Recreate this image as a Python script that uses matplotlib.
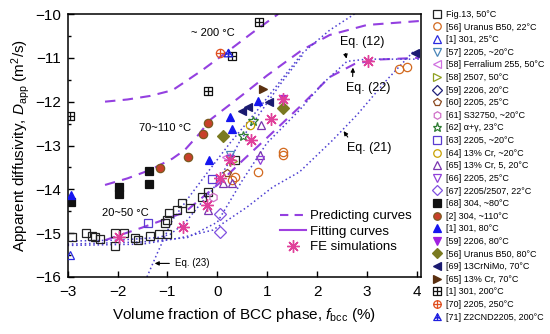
import matplotlib
matplotlib.use("Agg")
import matplotlib.pyplot as plt
from matplotlib.path import Path
from matplotlib.lines import Line2D

plt.rcParams['font.family'] = ['Liberation Sans', 'DejaVu Sans']
plt.rcParams['mathtext.fontset'] = 'custom'
plt.rcParams['mathtext.rm'] = 'Liberation Sans'
plt.rcParams['mathtext.it'] = 'Liberation Sans:italic'

# predicting curves (dashed)
pred200_x = [-2.25, -1.8, -1.35, -0.9, -0.65, -0.3, 0.2, 0.7, 1.22]
pred200_y = [-12.0, -11.95, -11.87, -11.74, -11.55, -11.28, -10.86, -10.43, -10.0]
pred70_x = [-2.25, -1.8, -1.35, -0.9, -0.65, -0.35, -0.15, 0.5, 1.0, 1.7, 2.25, 3.0, 4.05]
pred70_y = [-13.9, -13.75, -13.56, -13.3, -13.1, -12.72, -12.42, -11.85, -11.4, -10.82, -10.48, -10.25, -10.16]
pred20_x = [-2.25, -1.5, -0.65, 0.0, 0.5, 1.0, 1.65, 2.25, 2.75, 3.2, 4.05]
pred20_y = [-15.16, -14.87, -14.52, -13.9, -13.35, -12.82, -12.12, -11.44, -11.14, -11.04, -11.0]

# model curves (dotted)
eq23_x = [-1.41, -1.2, -0.9, -0.55, -0.2, 0.25, 0.8, 1.25, 1.7, 2.25, 2.75]
eq23_y = [-16.0, -15.45, -14.7, -14.15, -13.62, -12.95, -12.2, -11.55, -10.9, -10.37, -10.0]
fan_x = [-3.0, -2.0, -1.2, -0.95, -0.65, -0.35, -0.09, 0.25, 0.45, 0.8, 1.25, 1.7]
fan_y = [-15.18, -15.16, -15.1, -15.03, -14.77, -14.35, -14.0, -13.35, -12.9, -12.35, -11.62, -10.95]
eq12_x = [-3.0, -1.5, -0.6, 0.0, 0.5, 0.99, 1.65, 2.1, 2.6, 3.0, 4.05]
eq12_y = [-15.25, -15.2, -15.1, -14.75, -13.8, -12.95, -12.19, -11.6, -11.08, -11.03, -11.03]
eq21_x = [-3.0, -1.5, -0.75, -0.09, 0.59, 1.11, 1.65, 2.31, 2.8, 3.4, 3.96]
eq21_y = [-15.28, -15.25, -15.11, -14.93, -14.41, -13.95, -13.6, -12.88, -12.3, -11.5, -10.82]

# experimental data
fig13_x = [-2.92, -2.64, -2.52, -2.46, -2.36, -2.06, -2.06, -1.86, -1.64, -1.58, -1.35, -1.17, -1.01,
           -1.05, -1.01, -0.97, -0.81, -0.71, -0.55, -0.31, -0.19, 0.35]
fig13_y = [-15.09, -15.0, -15.07, -15.09, -15.14, -15.0, -15.30, -15.0, -15.11, -15.16, -15.07, -15.02, -15.02,
           -14.77, -14.70, -14.54, -14.47, -14.32, -14.43, -14.18, -14.06, -13.33]
ur22_x = [0.29, 0.35, 0.81, 1.31, 1.31, 3.65, 3.8]
ur22_y = [-13.79, -13.72, -13.61, -13.15, -13.22, -11.26, -11.21]
s301_25_x = [-2.96]
s301_25_y = [-15.5]
s2205_57_x = [0.25]
s2205_57_y = [-13.22]
ferr_x = [0.17]
ferr_y = [-13.27]
s2507_x = [0.31]
s2507_y = [-13.36]
s2206_20_x = []
s2206_20_y = []
s2205_60_x = [0.19]
s2205_60_y = [-13.63]
s32750_x = [-0.09]
s32750_y = [-14.18]
ag_x = [0.71, 0.51]
ag_y = [-12.44, -12.79]
s2205_63_x = [-1.39, -0.11]
s2205_63_y = [-14.77, -13.77]
cr13_20_x = [0.65]
cr13_20_y = [-12.53]
cr13_5_x = [0.87, 0.85, 0.29, 0.11, -0.19]
cr13_5_y = [-12.53, -13.22, -13.86, -13.86, -14.47]
s2205_66_x = [0.85, 0.25]
s2205_66_y = [-13.33, -13.3]
s2507_67_x = [0.05, 0.05]
s2507_67_y = [-14.57, -14.98]
s304_80_x = [-2.94, -1.96, -1.96, -1.37, -1.37]
s304_80_y = [-14.29, -13.95, -14.11, -13.58, -13.88]
s304_110_x = [-1.15, -0.59, -0.19, -0.29]
s304_110_y = [-13.52, -13.26, -12.49, -12.74]
s301_80_x = [-2.94, -0.17, 0.25, 0.29, 0.81]
s301_80_y = [-14.13, -13.33, -12.35, -12.63, -11.99]
s2206_80_x = [1.31]
s2206_80_y = [-11.94]
ur80_x = [1.31, 0.11]
ur80_y = [-12.15, -12.79]
crnimo_x = [0.49, 0.61, 1.03, 3.96]
crnimo_y = [-12.21, -12.12, -12.01, -10.89]
cr13_70_x = [0.91]
cr13_70_y = [-11.71]
s301_200_x = [-2.96, -0.19, 0.29, 0.83]
s301_200_y = [-12.33, -11.76, -10.96, -10.18]
s2205_250_x = [0.05]
s2205_250_y = [-10.89]
z2cnd_x = [0.21]
z2cnd_y = [-10.89]
fe_x = [-1.96, -0.69, -0.21, 0.05, 0.25, 0.67, 1.07, 1.31, 3.02]
fe_y = [-15.09, -14.86, -14.36, -13.74, -13.33, -12.88, -12.4, -11.94, -11.07]

# custom markers: square with plus, circle with plus, triangle with plus
M, L, C = Path.MOVETO, Path.LINETO, Path.CLOSEPOLY
sq_plus = Path([(-1, -1), (1, -1), (1, 1), (-1, 1), (-1, -1), (-1, 0), (1, 0), (0, -1), (0, 1)],
               [M, L, L, L, C, M, L, M, L])
cross = Path([(-1, 0), (1, 0), (0, -1), (0, 1)], [M, L, M, L])
circ_plus = Path.make_compound_path(Path.unit_circle(), cross)
tri_plus = Path([(-1, -0.8), (1, -0.8), (0, 1), (-1, -0.8), (-0.6, -0.1), (0.6, -0.1), (0, -0.8), (0, 1)],
                [M, L, L, C, M, L, M, L])

fig = plt.figure(figsize=(5.5, 3.34), dpi=100)
ax = fig.add_axes([67.6 / 550, 1 - 277 / 334, 353.3 / 550, 263 / 334])

dash_c = '#9440e0'
dot_c = '#4d3fd2'
for xs, ys in [(pred200_x, pred200_y), (pred70_x, pred70_y), (pred20_x, pred20_y)]:
    ax.plot(xs, ys, color=dash_c, lw=1.5, ls=(0, (5, 3.5)), zorder=2)
for xs, ys in [(eq23_x, eq23_y), (fan_x, fan_y), (eq12_x, eq12_y), (eq21_x, eq21_y)]:
    ax.plot(xs, ys, color=dot_c, lw=1.1, ls=(0, (1, 1.8)), zorder=2)

ms = 6
series = [
    (fig13_x, fig13_y, 'Fig.13, 50°C', 's', '#222222', 'none'),
    (ur22_x, ur22_y, '[56] Uranus B50, 22°C', 'o', '#d2691e', 'none'),
    (s301_25_x, s301_25_y, '[1] 301, 25°C', '^', '#2a2ae0', 'none'),
    (s2205_57_x, s2205_57_y, '[57] 2205, ~20°C', 'v', '#4a86b8', 'none'),
    (ferr_x, ferr_y, '[58] Ferralium 255, 50°C', '<', '#d070e0', 'none'),
    (s2507_x, s2507_y, '[58] 2507, 50°C', '>', '#8fa020', 'none'),
    (s2206_20_x, s2206_20_y, '[59] 2206, 20°C', 'D', '#20207a', 'none'),
    (s2205_60_x, s2205_60_y, '[60] 2205, 25°C', 'p', '#8b4a20', 'none'),
    (s32750_x, s32750_y, '[61] S32750, ~20°C', 'h', '#d070c8', 'none'),
    (ag_x, ag_y, '[62] α+γ, 23°C', '*', '#2e7d32', 'none'),
    (s2205_63_x, s2205_63_y, '[63] 2205, ~20°C', 's', '#5a3cd0', 'none'),
    (cr13_20_x, cr13_20_y, '[64] 13% Cr, ~20°C', 'o', '#c8a000', 'none'),
    (cr13_5_x, cr13_5_y, '[65] 13% Cr, 5, 20°C', '^', '#7a35b0', 'none'),
    (s2205_66_x, s2205_66_y, '[66] 2205, 25°C', 'v', '#9040d8', 'none'),
    (s2507_67_x, s2507_67_y, '[67] 2205/2507, 22°C', 'D', '#8050e0', 'none'),
    (s304_80_x, s304_80_y, '[68] 304, ~80°C', 's', '#111111', '#111111'),
    (s304_110_x, s304_110_y, '[2] 304, ~110°C', 'o', '#7a5a20', '#c8402a'),
    (s301_80_x, s301_80_y, '[1] 301, 80°C', '^', '#1515f0', '#1515f0'),
    (s2206_80_x, s2206_80_y, '[59] 2206, 80°C', 'v', '#a020e0', '#a020e0'),
    (ur80_x, ur80_y, '[56] Uranus B50, 80°C', 'D', '#7a7a20', '#7a7a20'),
    (crnimo_x, crnimo_y, '[69] 13CrNiMo, 70°C', '<', '#1a1a70', '#1a1a70'),
    (cr13_70_x, cr13_70_y, '[65] 13% Cr, 70°C', '>', '#5a3010', '#5a3010'),
    (s301_200_x, s301_200_y, '[1] 301, 200°C', sq_plus, '#111111', 'none'),
    (s2205_250_x, s2205_250_y, '[70] 2205, 250°C', circ_plus, '#e05020', 'none'),
    (z2cnd_x, z2cnd_y, '[71] Z2CND2205, 200°C', tri_plus, '#2020e0', 'none'),
]

handles = []
for xs, ys, lab, mk, ec, fc in series:
    size = ms + 1.5 if mk == '*' else ms
    h, = ax.plot(xs, ys, ls='none', marker=mk, ms=size, mec=ec, mfc=fc, mew=0.9, label=lab, zorder=3)
    handles.append(h)

ax.plot(fe_x, fe_y, ls='none', marker=(8, 2, 0), ms=9, mec='#e0409a', mew=1.0, zorder=4)

ax.set_xlim(-3.0, 4.08)
ax.set_ylim(-16, -10)
ax.set_xticks(range(-3, 5))
ax.set_yticks(range(-16, -9))
ax.set_yticks([-15.5, -14.5, -13.5, -12.5, -11.5, -10.5], minor=True)
ax.tick_params(direction='in', labelsize=11, length=4, width=1)
ax.tick_params(axis='x', pad=6)
ax.tick_params(axis='y', pad=5)
ax.tick_params(which='minor', direction='in', length=2.5, width=1)
for s in ax.spines.values():
    s.set_linewidth(1.1)

ax.set_xlabel('Volume fraction of BCC phase, $f_{\\rm bcc}$ (%)', fontsize=11, labelpad=5)
ax.set_ylabel('Apparent diffusivity, $D_{\\rm app}$ (m$^2$/s)', fontsize=11, labelpad=2)

# annotations
ax.text(-0.09, -10.43, '~ 200 °C', fontsize=8, ha='center', va='center')
ax.text(-1.05, -12.6, '70~110 °C', fontsize=8, ha='center', va='center')
ax.text(-1.84, -14.54, '20~50 °C', fontsize=8, ha='center', va='center')
ax.annotate('Eq. (12)', xy=(2.6, -11.08), xytext=(2.9, -10.64), fontsize=9, ha='center', va='center',
            arrowprops=dict(arrowstyle='-|>', color='black', lw=0.8, mutation_scale=6,
                            relpos=(0.1, 0.0)))
ax.annotate('Eq. (22)', xy=(2.72, -11.16), xytext=(3.02, -11.69), fontsize=9, ha='center', va='center',
            arrowprops=dict(arrowstyle='-|>', color='black', lw=0.8, mutation_scale=6,
                            relpos=(0.15, 1.0)))
ax.annotate('Eq. (21)', xy=(2.5, -12.62), xytext=(3.04, -13.06), fontsize=9, ha='center', va='center',
            arrowprops=dict(arrowstyle='-|>', color='black', lw=0.8, mutation_scale=6,
                            relpos=(0.1, 1.0)))
ax.annotate('Eq. (23)', xy=(-1.31, -15.69), xytext=(-0.85, -15.69), fontsize=7, ha='left', va='center',
            arrowprops=dict(arrowstyle='-|>', color='black', lw=0.8, mutation_scale=6))

inner = [Line2D([], [], color=dash_c, lw=1.5, ls=(0, (4, 3))),
         Line2D([], [], color='#a040e0', lw=1.5),
         Line2D([], [], ls='none', marker=(8, 2, 0), ms=9, mec='#e0409a', mew=1.0)]
ax.legend(inner, ['Predicting curves', 'Fitting curves', 'FE simulations'], loc='lower left',
          bbox_to_anchor=(0.6, 0.09), frameon=False, fontsize=9.5, handlelength=2.0,
          handletextpad=0.3, labelspacing=0.25, borderpad=0, borderaxespad=0)

fig.legend(handles=handles, loc='upper left', bbox_to_anchor=(432 / 550, 1 - 10 / 334), frameon=False,
           fontsize=6.5, handlelength=1.0, handletextpad=0.5, labelspacing=0.4, borderpad=0,
           borderaxespad=0, markerscale=0.9)

fig.savefig('out.png', dpi=100)
